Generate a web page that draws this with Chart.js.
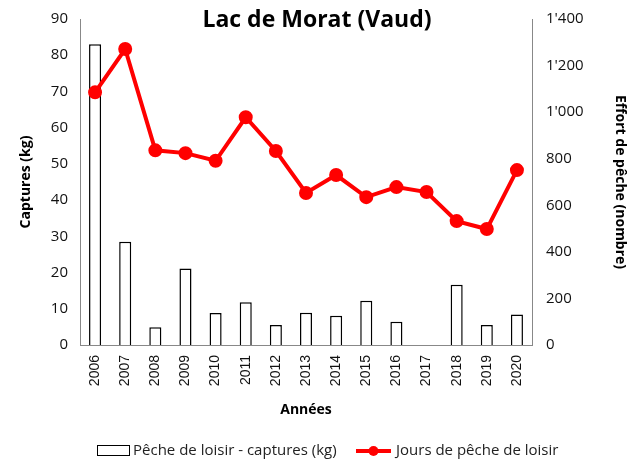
<!DOCTYPE html>
<html>
<head>
<meta charset="utf-8">
<script src="https://cdn.jsdelivr.net/npm/chart.js@4/dist/chart.umd.min.js"></script>
<style>
  html, body { margin: 0; padding: 0; background: #fff; }
  #wrap { width: 630px; height: 460px; }
</style>
</head>
<body>
<div id="wrap"><canvas id="chart" width="630" height="460"></canvas></div>
<script>
const years = ["2006","2007","2008","2009","2010","2011","2012","2013","2014","2015","2016","2017","2018","2019","2020"];
const captures = [83, 28.5, 4.9, 21.1, 8.8, 11.8, 5.5, 8.9, 8.1, 12.2, 6.4, 0, 16.6, 5.5, 8.4];
const jours = [1085, 1271, 836, 824, 791, 978, 833, 653, 730, 635, 678, 657, 532, 498, 751];

const titleText = "Lac de Morat (Vaud)";
const barLabel = "Pêche de loisir - captures (kg)";
const lineLabel = "Jours de pêche de loisir";
const FONT = "'Open Sans', 'Liberation Sans', sans-serif";

function fmtThousands(v) {
  return String(v).replace(/\B(?=(\d{3})+(?!\d))/g, "'");
}

// title overlaps the plot area like in Excel, and the legend is drawn by hand
const overlay = {
  id: 'overlay',
  afterDraw(chart) {
    const c = chart.ctx;
    c.save();
    c.fillStyle = '#000';
    c.font = "bold 23px " + FONT;
    c.textAlign = 'center';
    c.textBaseline = 'middle';
    c.fillText(titleText, 317, 20);

    // legend
    const y = 451;
    c.font = "15px " + FONT;
    c.textAlign = 'left';
    c.strokeStyle = '#000';
    c.lineWidth = 1;
    c.fillStyle = '#fff';
    c.fillRect(97.5, y - 5.5, 32, 10);
    c.strokeRect(97.5, y - 5.5, 32, 10);
    c.fillStyle = '#222';
    c.fillText(barLabel, 133, y);

    c.strokeStyle = '#ff0000';
    c.lineWidth = 4;
    c.beginPath();
    c.moveTo(356, y);
    c.lineTo(391, y);
    c.stroke();
    c.fillStyle = '#ff0000';
    c.beginPath();
    c.arc(373.5, y, 5, 0, Math.PI * 2);
    c.fill();
    c.fillStyle = '#222';
    c.fillText(lineLabel, 396, y);
    c.restore();
  }
};

new Chart(document.getElementById('chart'), {
  data: {
    labels: years,
    datasets: [
      {
        type: 'line',
        label: lineLabel,
        data: jours,
        yAxisID: 'y1',
        borderColor: '#ff0000',
        backgroundColor: '#ff0000',
        borderWidth: 4,
        pointRadius: 5,
        pointBackgroundColor: '#ff0000',
        tension: 0,
        order: 0
      },
      {
        type: 'bar',
        label: barLabel,
        data: captures,
        yAxisID: 'y',
        backgroundColor: '#ffffff',
        borderColor: '#000000',
        borderWidth: 1.5,
        barPercentage: 0.4,
        categoryPercentage: 1,
        order: 1
      }
    ]
  },
  options: {
    responsive: false,
    animation: false,
    layout: { padding: { top: 19, left: 10, right: 0, bottom: 30 } },
    plugins: {
      legend: { display: false },
      title: { display: false },
      tooltip: { enabled: false }
    },
    scales: {
      x: {
        afterFit: s => { s.height = 85; },
        grid: { display: false, drawTicks: true, tickLength: 5, color: '#888' },
        border: { color: '#888' },
        ticks: {
          color: '#111',
          font: { family: "'Liberation Sans', sans-serif", size: 14 },
          maxRotation: 90,
          minRotation: 90,
          padding: 5
        },
        title: {
          display: true,
          text: 'Années',
          color: '#000',
          font: { family: FONT, size: 14, weight: 'bold' },
          padding: { top: 4, bottom: 12 }
        }
      },
      y: {
        position: 'left',
        min: 0,
        max: 90,
        afterFit: s => { s.width = 70; },
        grid: { display: false, drawTicks: true, tickLength: 5, color: '#888' },
        border: { color: '#888' },
        ticks: {
          stepSize: 10,
          color: '#111',
          padding: 7,
          font: { family: FONT, size: 15 }
        },
        title: {
          display: true,
          text: 'Captures (kg)',
          color: '#000',
          font: { family: FONT, size: 14, weight: 'bold' },
          padding: { top: 8, bottom: 4 }
        }
      },
      y1: {
        position: 'right',
        min: 0,
        max: 1400,
        afterFit: s => { s.width = 98; },
        grid: { display: false, drawTicks: true, tickLength: 5, color: '#888' },
        border: { color: '#888' },
        ticks: {
          stepSize: 200,
          color: '#111',
          padding: 9,
          font: { family: FONT, size: 15 },
          callback: v => fmtThousands(v)
        },
        title: {
          display: true,
          text: 'Effort de pêche (nombre)',
          color: '#000',
          font: { family: FONT, size: 14, weight: 'bold' },
          padding: { top: 2, bottom: 4 }
        }
      }
    }
  },
  plugins: [overlay]
});
</script>
</body>
</html>
